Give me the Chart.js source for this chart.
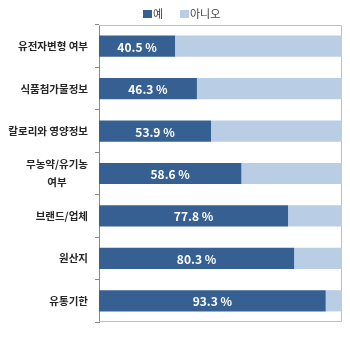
<!DOCTYPE html>
<html>
<head>
<meta charset="utf-8">
<script src="https://cdn.jsdelivr.net/npm/chart.js@4"></script>
<style>
  html, body { margin: 0; padding: 0; background: #fff; }
  #wrap { width: 350px; height: 338px; }
</style>
</head>
<body>
<div id="wrap"><canvas id="chart" width="350" height="338"></canvas></div>
<script>
const categories = ['유전자변형 여부', '식품첨가물정보', '칼로리와 영양정보', ['무농약/유기농', '여부'], '브랜드/업체', '원산지', '유통기한'];
// bar lengths as drawn in the picture (the first three printed labels don't match their bars)
const yesValues = [31.3, 40.3, 46.1, 58.6, 77.8, 80.3, 93.3];
const noValues = [68.7, 59.7, 53.9, 41.4, 22.2, 19.7, 6.7];
const valueLabels = ['40.5 %', '46.3 %', '53.9 %', '58.6 %', '77.8 %', '80.3 %', '93.3 %'];
const seriesNames = ['예', '아니오'];
const seriesColors = ['#376092', '#b9cde5'];

const FONT = "'Noto Sans CJK KR', 'Noto Sans', sans-serif";

// frame, category labels (block right aligned, lines centred), legend, value labels
const extras = {
    id: 'extras',
    beforeDatasetsDraw(chart) {
        const { ctx, chartArea: a } = chart;
        ctx.save();
        ctx.strokeStyle = '#bfbfbf';
        ctx.lineWidth = 1;
        ctx.beginPath();
        ctx.moveTo(a.left, a.top + 0.5);
        ctx.lineTo(a.right - 0.5, a.top + 0.5);
        ctx.lineTo(a.right - 0.5, a.bottom - 0.5);
        ctx.lineTo(a.left, a.bottom - 0.5);
        ctx.stroke();
        ctx.restore();
    },
    afterDraw(chart) {
        const { ctx, chartArea: a } = chart;
        const yScale = chart.scales.y;
        ctx.save();

        // category labels
        ctx.fillStyle = '#262626';
        ctx.font = 'bold 10.5px ' + FONT;
        ctx.textAlign = 'center';
        ctx.textBaseline = 'middle';
        const right = a.left - 11;
        categories.forEach((lab, i) => {
            const lines = Array.isArray(lab) ? lab : [lab];
            const w = Math.max(...lines.map(l => ctx.measureText(l).width));
            const cy = yScale.getPixelForTick(i);
            const lh = 18;
            lines.forEach((l, j) => {
                ctx.fillText(l, right - w / 2, cy + (j - (lines.length - 1) / 2) * lh);
            });
        });

        // legend
        ctx.font = '11px ' + FONT;
        ctx.textAlign = 'left';
        const legendX = [143, 180];
        seriesNames.forEach((name, i) => {
            ctx.fillStyle = seriesColors[i];
            ctx.fillRect(legendX[i], 10, 9, 8);
            ctx.fillStyle = '#404040';
            ctx.fillText(name, legendX[i] + 10, 14);
        });

        // value labels on dark bars
        const meta = chart.getDatasetMeta(0);
        ctx.fillStyle = '#ffffff';
        ctx.font = 'bold 12px ' + FONT;
        ctx.textAlign = 'center';
        meta.data.forEach((bar, i) => {
            ctx.fillText(valueLabels[i], (bar.x + bar.base) / 2, bar.y + 1);
        });
        ctx.restore();
    }
};

new Chart(document.getElementById('chart'), {
    type: 'bar',
    data: {
        labels: categories,
        datasets: [
            { label: seriesNames[0], data: yesValues, backgroundColor: seriesColors[0] },
            { label: seriesNames[1], data: noValues, backgroundColor: seriesColors[1] }
        ]
    },
    options: {
        indexAxis: 'y',
        responsive: false,
        animation: false,
        devicePixelRatio: 1,
        barPercentage: 0.5,
        categoryPercentage: 1.0,
        layout: { padding: { left: 0, right: 8, top: 25, bottom: 16 } },
        plugins: {
            legend: { display: false },
            tooltip: { enabled: false }
        },
        scales: {
            x: {
                stacked: true,
                min: 0,
                max: 100,
                display: false
            },
            y: {
                stacked: true,
                grid: {
                    offset: true,
                    drawOnChartArea: false,
                    tickLength: 4,
                    color: '#888'
                },
                border: { color: '#888' },
                ticks: {
                    color: 'rgba(0,0,0,0)',
                    font: { family: FONT, size: 10.5 }
                },
                afterFit(scale) { scale.width = 99; }
            }
        }
    },
    plugins: [extras]
});
</script>
</body>
</html>
